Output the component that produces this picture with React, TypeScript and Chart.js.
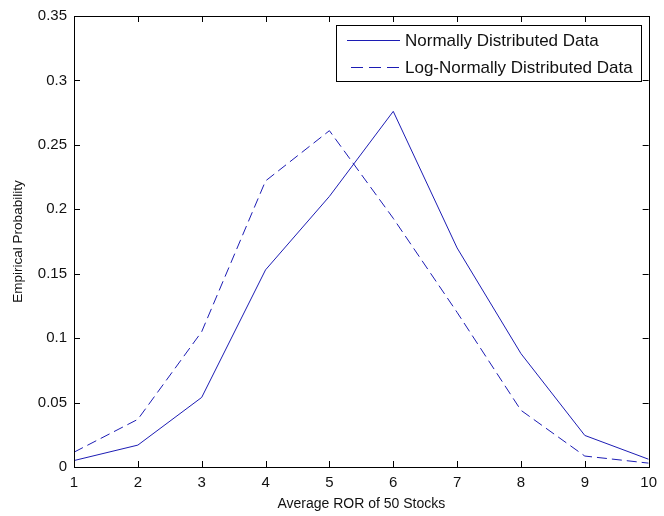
import React, { useEffect, useRef } from "react";
import { Chart, registerables } from "chart.js";

Chart.register(...registerables);

const xValues = [1, 2, 3, 4, 5, 6, 7, 8, 9, 10];
const normalData = [0.005, 0.017, 0.054, 0.153, 0.21, 0.276, 0.17, 0.088, 0.0245, 0.006];
const logNormalData = [0.0115, 0.037, 0.105, 0.222, 0.261, 0.193, 0.12, 0.044, 0.0085, 0.003];
const seriesLabels = ["Normally Distributed Data", "Log-Normally Distributed Data"];
const xTitle = "Average ROR of 50 Stocks";
const yTitle = "Empirical Probability";

const LINE_COLOR = "#1c1cb4";
const FONT = "'Liberation Sans', Arial, sans-serif";
const DASH = [10, 5];

const matlabFrame = {
  id: "matlabFrame",
  afterDatasetsDraw(chart: any) {
    const { ctx, chartArea: a, scales } = chart;
    ctx.save();
    ctx.strokeStyle = "#000";
    ctx.lineWidth = 1;
    ctx.strokeRect(Math.round(a.left) + 0.5, Math.round(a.top) + 0.5, Math.round(a.right - a.left), Math.round(a.bottom - a.top));
    const tl = 6;
    ctx.beginPath();
    scales.x.ticks.forEach((t: any) => {
      const px = Math.round(scales.x.getPixelForValue(t.value)) + 0.5;
      ctx.moveTo(px, a.bottom);
      ctx.lineTo(px, a.bottom - tl);
      ctx.moveTo(px, a.top);
      ctx.lineTo(px, a.top + tl);
    });
    scales.y.ticks.forEach((t: any) => {
      const py = Math.round(scales.y.getPixelForValue(t.value)) + 0.5;
      ctx.moveTo(a.left, py);
      ctx.lineTo(a.left + tl, py);
      ctx.moveTo(a.right, py);
      ctx.lineTo(a.right - tl, py);
    });
    ctx.stroke();

    // legend
    ctx.font = `17px ${FONT}`;
    const textW = Math.max(...seriesLabels.map((s) => ctx.measureText(s).width));
    const padL = 11, sample = 53, gap = 5, padR = 8;
    const w = padL + sample + gap + textW + padR;
    const h = 56;
    const right = Math.round(a.right) - 8;
    const left = Math.round(right - w);
    const top = Math.round(a.top) + 9;
    ctx.fillStyle = "#fff";
    ctx.fillRect(left, top, right - left, h);
    ctx.strokeStyle = "#000";
    ctx.setLineDash([]);
    ctx.strokeRect(left + 0.5, top + 0.5, right - left, h);
    const rows = [15, 42];
    chart.data.datasets.forEach((ds: any, i: number) => {
      const y = top + rows[i] + 0.5;
      ctx.strokeStyle = ds.borderColor;
      ctx.lineWidth = 1;
      const dashed = !!ds.borderDash;
      ctx.setLineDash(dashed ? [12, 6] : []);
      ctx.beginPath();
      ctx.moveTo(left + padL + (dashed ? 4 : 0), y);
      ctx.lineTo(left + padL + sample, y);
      ctx.stroke();
      ctx.setLineDash([]);
      ctx.fillStyle = "#111";
      ctx.textBaseline = "middle";
      ctx.textAlign = "left";
      ctx.fillText(ds.label, left + padL + sample + gap, y + 1);
    });
    ctx.restore();
  },
};

export default function App() {
  const canvasRef = useRef<HTMLCanvasElement | null>(null);

  useEffect(() => {
    if (!canvasRef.current) return;
    const chart = new Chart(canvasRef.current, {
      type: "line",
      data: {
        datasets: [
          {
            label: seriesLabels[0],
            data: xValues.map((x, i) => ({ x, y: normalData[i] })),
            borderColor: LINE_COLOR,
            backgroundColor: LINE_COLOR,
            borderWidth: 1,
            pointRadius: 0,
            tension: 0,
            fill: false,
          },
          {
            label: seriesLabels[1],
            data: xValues.map((x, i) => ({ x, y: logNormalData[i] })),
            borderColor: LINE_COLOR,
            backgroundColor: LINE_COLOR,
            borderWidth: 1,
            borderDash: DASH,
            pointRadius: 0,
            tension: 0,
            fill: false,
          },
        ],
      },
      options: {
        responsive: false,
        animation: false,
        devicePixelRatio: 1,
        layout: { padding: { left: 0, top: 10, right: 10, bottom: 0 } },
        plugins: { legend: { display: false }, tooltip: { enabled: false } },
        scales: {
          x: {
            type: "linear",
            min: 1,
            max: 10,
            grid: { display: false, drawTicks: false },
            border: { display: false },
            ticks: {
              stepSize: 1,
              padding: 7,
              color: "#111",
              font: { family: FONT, size: 15 },
              maxRotation: 0,
              autoSkip: false,
            },
            title: {
              display: true,
              text: xTitle,
              color: "#111",
              font: { family: FONT, size: 14 },
              padding: { top: 0, bottom: 3 },
            },
            afterFit: (s: any) => {
              s.height = 49;
            },
          },
          y: {
            type: "linear",
            min: 0,
            max: 0.35,
            grid: { display: false, drawTicks: false },
            border: { display: false },
            ticks: {
              stepSize: 0.05,
              padding: 7,
              color: "#111",
              font: { family: FONT, size: 15 },
              callback: (v: any) => String(parseFloat(Number(v).toFixed(2))),
            },
            title: {
              display: true,
              text: yTitle,
              color: "#111",
              font: { family: FONT, size: 13.5 },
              padding: { top: 10, bottom: 0 },
            },
            afterFit: (s: any) => {
              s.width = 74;
            },
          },
        },
      },
      plugins: [matlabFrame],
    });
    return () => chart.destroy();
  }, []);

  return (
    <div style={{ position: "absolute", left: 0, top: 0, width: 664, height: 516, background: "#fff" }}>
      <canvas ref={canvasRef} width={664} height={516} style={{ display: "block", width: 664, height: 516 }} />
    </div>
  );
}
